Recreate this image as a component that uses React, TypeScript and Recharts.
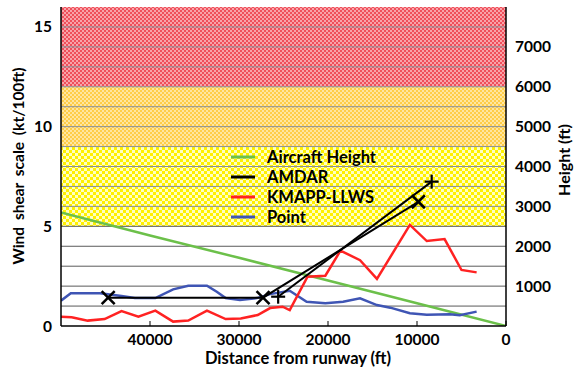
import React from "react";
import {
  ComposedChart,
  Line,
  XAxis,
  YAxis,
  ReferenceArea,
  ReferenceLine,
} from "recharts";

// ---- data ----
// distance from runway (ft) / wind shear scale (kt/100ft)
const pointSeries = [
  { d: 50000, v: 1.27 }, { d: 48900, v: 1.64 }, { d: 45600, v: 1.64 },
  { d: 43200, v: 1.5 }, { d: 41700, v: 1.4 }, { d: 39400, v: 1.4 },
  { d: 37400, v: 1.84 }, { d: 35700, v: 2.02 }, { d: 33600, v: 2.02 },
  { d: 32500, v: 1.72 }, { d: 31500, v: 1.4 }, { d: 29900, v: 1.3 },
  { d: 28000, v: 1.4 }, { d: 26500, v: 1.6 }, { d: 24300, v: 1.77 },
  { d: 22400, v: 1.22 }, { d: 20300, v: 1.14 }, { d: 18300, v: 1.22 },
  { d: 16400, v: 1.39 }, { d: 14500, v: 1.05 }, { d: 13000, v: 0.92 },
  { d: 10800, v: 0.64 }, { d: 8900, v: 0.57 }, { d: 6300, v: 0.59 },
  { d: 5200, v: 0.54 }, { d: 3300, v: 0.72 },
];

const kmappSeries = [
  { d: 50000, v: 0.47 }, { d: 48800, v: 0.44 }, { d: 47000, v: 0.27 },
  { d: 45100, v: 0.35 }, { d: 43200, v: 0.75 }, { d: 41300, v: 0.47 },
  { d: 39400, v: 0.77 }, { d: 37400, v: 0.22 }, { d: 35700, v: 0.27 },
  { d: 33600, v: 0.77 }, { d: 31500, v: 0.35 }, { d: 29800, v: 0.38 },
  { d: 27900, v: 0.55 }, { d: 26500, v: 0.9 }, { d: 25100, v: 0.97 },
  { d: 24300, v: 0.8 }, { d: 22300, v: 2.47 }, { d: 20300, v: 2.52 },
  { d: 18600, v: 3.78 }, { d: 16400, v: 3.3 }, { d: 14500, v: 2.36 },
  { d: 10800, v: 5.07 }, { d: 8900, v: 4.26 }, { d: 6900, v: 4.36 },
  { d: 5000, v: 2.81 }, { d: 3300, v: 2.69 },
];

// AMDAR reports: two descents
const amdarCross = [
  { d: 44700, v: 1.42 }, { d: 27300, v: 1.42 }, { d: 9850, v: 6.23 },
];
const amdarPlus = [
  { d: 25600, v: 1.47 }, { d: 8350, v: 7.24 },
];

// aircraft height (ft) along the approach
const aircraftHeight = [
  { d: 50000, h: 2850 }, { d: 40000, h: 2270 }, { d: 30000, h: 1710 },
  { d: 20000, h: 1140 }, { d: 10000, h: 570 }, { d: 0, h: 0 },
];

const xTicks = [0, 10000, 20000, 30000, 40000];
const leftTicks = [0, 5, 10, 15];
const rightTicks = [1000, 2000, 3000, 4000, 5000, 6000, 7000];
const gridValues = [1, 2, 3, 4, 5, 6, 7, 8, 9, 10, 11, 12, 13, 14, 15];

// warning bands on the wind shear scale
const bands = [
  { from: 12, to: 16, fill: "url(#bandRed)" },
  { from: 9, to: 12, fill: "url(#bandOrange)" },
  { from: 5, to: 9, fill: "url(#bandYellow)" },
];

const legendItems = [
  { name: "Aircraft Height", color: "#6cc04a" },
  { name: "AMDAR", color: "#000000" },
  { name: "KMAPP-LLWS", color: "#ff2222" },
  { name: "Point", color: "#3f55b4" },
];

const FONT = "Lato, 'Noto Sans', sans-serif";

const CrossDot = (props: any) => {
  const { cx, cy } = props;
  if (cx == null || cy == null) return null;
  const s = 6.5;
  return (
    <g>
      <line x1={cx - s} y1={cy - s} x2={cx + s} y2={cy + s} stroke="#000" strokeWidth={2.6} />
      <line x1={cx - s} y1={cy + s} x2={cx + s} y2={cy - s} stroke="#000" strokeWidth={2.6} />
    </g>
  );
};

const PlusDot = (props: any) => {
  const { cx, cy } = props;
  if (cx == null || cy == null) return null;
  const s = 7;
  return (
    <g>
      <line x1={cx - s} y1={cy} x2={cx + s} y2={cy} stroke="#000" strokeWidth={2.2} />
      <line x1={cx} y1={cy - s} x2={cx} y2={cy + s} stroke="#000" strokeWidth={2.2} />
    </g>
  );
};

// legend overlaid on the plot area
const LegendBox = () => (
  <div
    style={{
      position: "absolute",
      left: 229,
      top: 147,
      fontFamily: FONT,
      fontWeight: 700,
      fontSize: 16.5,
      color: "#000",
      pointerEvents: "none",
    }}
  >
    {legendItems.map((it) => (
      <div key={it.name} style={{ display: "flex", alignItems: "center", height: 20 }}>
        <svg width={38} height={20} style={{ display: "block" }}>
          <line x1={2} y1={10} x2={26} y2={10} stroke={it.color} strokeWidth={3} />
        </svg>
        <span style={{ display: "block", height: 20, lineHeight: "20px", whiteSpace: "nowrap" }}>
          {it.name}
        </span>
      </div>
    ))}
  </div>
);

export default function App() {
  const tickStyle = { fontFamily: FONT, fontSize: 15.5, fontWeight: 700, fill: "#000" };
  return (
    <div
      style={{
        position: "absolute",
        left: 0,
        top: 0,
        width: 582,
        height: 370,
        background: "#fff",
      }}
    >
      <ComposedChart
        width={582}
        height={370}
        margin={{ top: 7, right: 16, bottom: 14, left: 21 }}
      >
        <defs>
          <pattern id="bandRed" width="4" height="4" patternUnits="userSpaceOnUse">
            <rect width="4" height="4" fill="#ef4f5a" />
            <rect x="0" y="0" width="2" height="2" fill="#f8a3a9" />
            <rect x="2" y="2" width="2" height="2" fill="#f8a3a9" />
          </pattern>
          <pattern id="bandOrange" width="4" height="4" patternUnits="userSpaceOnUse">
            <rect width="4" height="4" fill="#ffcd48" />
            <rect x="0" y="0" width="2" height="2" fill="#ffe6a0" />
            <rect x="2" y="2" width="2" height="2" fill="#ffe6a0" />
          </pattern>
          <pattern id="bandYellow" width="6" height="6" patternUnits="userSpaceOnUse">
            <rect width="6" height="6" fill="#fff000" />
            <rect x="0" y="0" width="3" height="3" fill="#ffffc0" />
            <rect x="3" y="3" width="3" height="3" fill="#ffffc0" />
          </pattern>
        </defs>

        <XAxis
          xAxisId="bottom"
          dataKey="d"
          type="number"
          domain={[0, 50000]}
          reversed
          allowDataOverflow
          ticks={xTicks}
          height={30}
          tickSize={-5}
          tickMargin={13}
          tick={tickStyle}
          axisLine={{ stroke: "#000", strokeWidth: 1.5 }}
          tickLine={{ stroke: "#000" }}
        />
        <XAxis
          xAxisId="top"
          orientation="top"
          dataKey="d"
          type="number"
          domain={[0, 50000]}
          reversed
          allowDataOverflow
          ticks={xTicks}
          height={0}
          tickSize={-5}
          tick={false}
          axisLine={{ stroke: "#000", strokeWidth: 1.5 }}
          tickLine={{ stroke: "#000" }}
        />
        <YAxis
          yAxisId="left"
          type="number"
          domain={[0, 16]}
          allowDataOverflow
          ticks={leftTicks}
          width={40}
          tickLine={false}
          tickMargin={3}
          tick={tickStyle}
          axisLine={{ stroke: "#000", strokeWidth: 1.5 }}
        />
        <YAxis
          yAxisId="right"
          orientation="right"
          type="number"
          domain={[0, 8000]}
          allowDataOverflow
          ticks={rightTicks}
          width={60}
          tickLine={false}
          tickMargin={3}
          tick={tickStyle}
          axisLine={{ stroke: "#000", strokeWidth: 1.5 }}
        />

        {bands.map((b) => (
          <ReferenceArea
            key={b.from}
            xAxisId="bottom"
            yAxisId="left"
            y1={b.from}
            y2={b.to}
            fill={b.fill}
            fillOpacity={1}
            stroke="none"
          />
        ))}
        {gridValues.map((g) => (
          <ReferenceLine
            key={g}
            xAxisId="bottom"
            yAxisId="left"
            y={g}
            stroke={g > 5 ? "#8a8f96" : "#5a5a5a"}
            strokeWidth={1}
          />
        ))}

        <Line
          xAxisId="bottom"
          yAxisId="right"
          data={aircraftHeight}
          dataKey="h"
          name="Aircraft Height"
          stroke="#6cc04a"
          strokeWidth={2.5}
          dot={false}
          isAnimationActive={false}
        />
        <Line
          xAxisId="bottom"
          yAxisId="left"
          data={pointSeries}
          dataKey="v"
          name="Point"
          stroke="#3f55b4"
          strokeWidth={2.5}
          dot={false}
          isAnimationActive={false}
        />
        <Line
          xAxisId="bottom"
          yAxisId="left"
          data={kmappSeries}
          dataKey="v"
          name="KMAPP-LLWS"
          stroke="#ff2222"
          strokeWidth={2.5}
          dot={false}
          isAnimationActive={false}
        />
        <Line
          xAxisId="bottom"
          yAxisId="left"
          data={amdarCross}
          dataKey="v"
          name="AMDAR"
          stroke="#000"
          strokeWidth={2}
          dot={<CrossDot />}
          isAnimationActive={false}
        />
        <Line
          xAxisId="bottom"
          yAxisId="left"
          data={amdarPlus}
          dataKey="v"
          name="AMDAR"
          stroke="#000"
          strokeWidth={2}
          dot={<PlusDot />}
          isAnimationActive={false}
        />

        <text
          x={18}
          y={166}
          transform="rotate(-90 18 166)"
          textAnchor="middle"
          dominantBaseline="central"
          style={{ fontFamily: FONT, fontSize: 15.5, fontWeight: 700, wordSpacing: 3 }}
          fill="#000"
        >
          Wind shear scale (kt/100ft)
        </text>
        <text
          x={563}
          y={160}
          transform="rotate(-90 563 160)"
          textAnchor="middle"
          dominantBaseline="central"
          style={{ fontFamily: FONT, fontSize: 16, fontWeight: 700 }}
          fill="#000"
        >
          Height (ft)
        </text>
        <text
          x={298}
          y={364}
          textAnchor="middle"
          style={{ fontFamily: FONT, fontSize: 16.5, fontWeight: 700 }}
          fill="#000"
        >
          Distance from runway (ft)
        </text>
      </ComposedChart>
      <LegendBox />
    </div>
  );
}
